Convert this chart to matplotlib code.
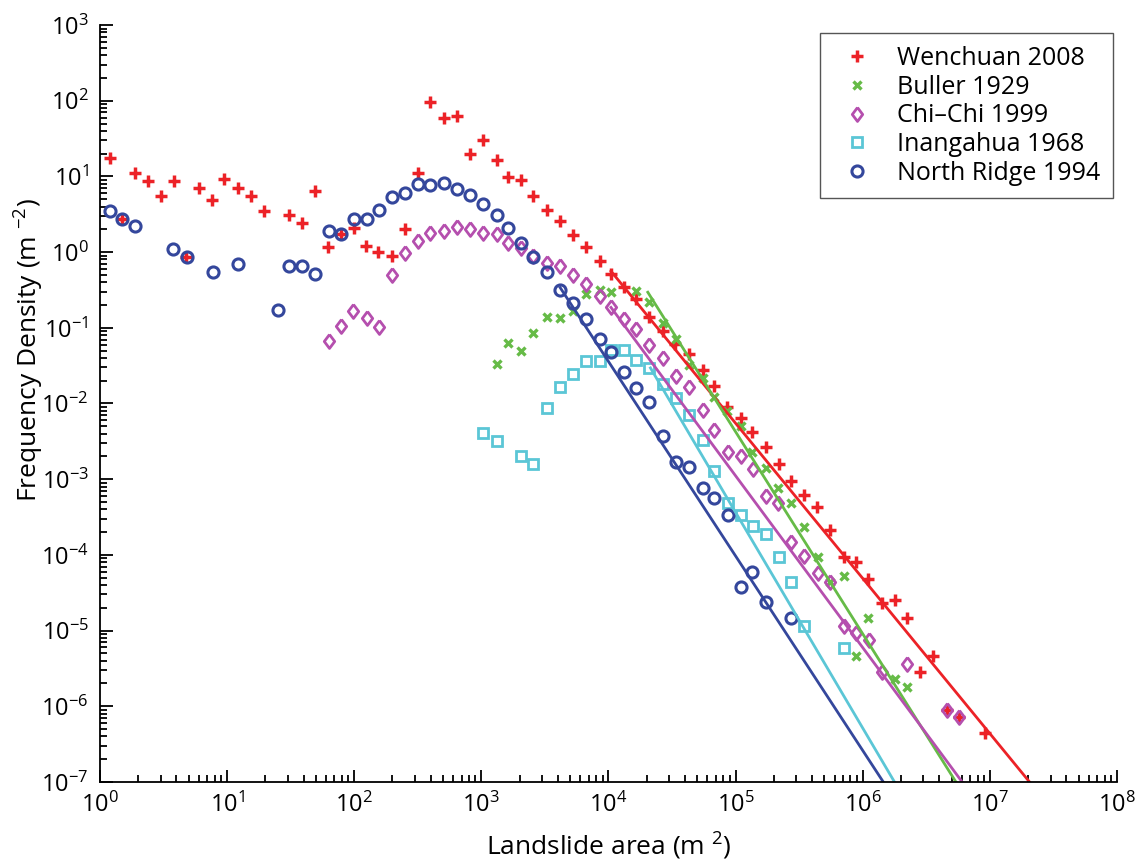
import numpy as np
import matplotlib
matplotlib.use("Agg")
import matplotlib.pyplot as plt
from matplotlib.ticker import LogLocator, FixedLocator, FuncFormatter, NullFormatter

# 字型設定
plt.rcParams['font.family'] = ['Open Sans', 'DejaVu Sans']
plt.rcParams['mathtext.fontset'] = 'custom'
plt.rcParams['mathtext.rm'] = 'Open Sans'
plt.rcParams['mathtext.it'] = 'Open Sans'
plt.rcParams['mathtext.default'] = 'regular'

# ---- data ----
wen_area = [1.2, 1.5, 1.88, 2.39, 3.0, 3.8, 4.8, 6.0, 7.6, 9.5, 12.3, 15.5, 19.5, 31, 39, 49,
            62, 79, 100, 123, 155, 200, 251, 316, 398, 513, 646, 813, 1023, 1318, 1622,
            2042, 2570, 3311, 4169, 5248, 6607, 8511, 10470, 13180, 16600, 20900, 26900,
            33100, 42700, 55000, 67600, 85100, 1.10e5, 1.35e5, 1.74e5, 2.19e5, 2.75e5,
            3.47e5, 4.37e5, 5.5e5, 7.1e5, 8.9e5, 1.10e6, 1.41e6, 1.78e6, 2.24e6, 2.82e6,
            3.55e6, 4.57e6, 5.75e6, 9.1e6]
wen_dens = [17.5, 2.75, 11, 8.7, 5.5, 8.7, 0.87, 7.0, 4.9, 9.3, 7.0, 5.5, 3.5, 3.1, 2.4, 6.4,
            1.17, 1.74, 2.1, 1.22, 1.0, 0.9, 2.0, 11, 96, 59, 63, 20, 30, 16.5, 9.8,
            9.0, 5.5, 3.6, 2.6, 1.68, 1.17, 0.76, 0.51, 0.35, 0.24, 0.14, 0.091,
            0.061, 0.045, 0.028, 0.017, 0.0089, 0.0064, 0.0042, 0.0027, 0.0016, 9.5e-4,
            6.2e-4, 4.3e-4, 2.1e-4, 9.3e-5, 8.1e-5, 4.8e-5, 2.3e-5, 2.5e-5, 1.47e-5, 2.8e-6,
            4.6e-6, 8.9e-7, 7.2e-7, 4.4e-7]

bul_area = [1318, 1622, 2042, 2570, 3311, 4169, 5248, 6607, 8511, 10470, 16600, 20900,
            26900, 33900, 42700, 55000, 67600, 85100, 1.10e5, 1.35e5, 1.74e5, 2.14e5,
            2.75e5, 3.47e5, 4.47e5, 5.5e5, 7.1e5, 8.9e5, 1.10e6, 1.78e6, 2.24e6]
bul_dens = [0.033, 0.063, 0.049, 0.085, 0.138, 0.135, 0.166, 0.28, 0.32, 0.30, 0.31, 0.22,
            0.115, 0.071, 0.032, 0.022, 0.0122, 0.0080, 0.0050, 0.0023, 0.0014, 7.6e-4,
            4.9e-4, 2.3e-4, 9.3e-5, 4.4e-5, 5.3e-5, 4.6e-6, 1.47e-5, 2.3e-6, 1.8e-6]

chi_area = [63, 79, 98, 126, 158, 200, 251, 316, 398, 513, 646, 813, 1023, 1318, 1622, 2042,
            2570, 3311, 4169, 5248, 6607, 8511, 10470, 13180, 16600, 20900, 26900, 33900,
            42700, 55000, 67600, 87100, 1.10e5, 1.38e5, 1.74e5, 2.14e5, 2.75e5, 3.47e5,
            4.47e5, 5.5e5, 7.1e5, 8.9e5, 1.12e6, 1.41e6, 2.24e6, 4.57e6, 5.75e6]
chi_dens = [0.067, 0.105, 0.166, 0.135, 0.103, 0.50, 0.97, 1.4, 1.8, 1.9, 2.15, 2.05, 1.8,
            1.75, 1.3, 1.13, 0.89, 0.72, 0.66, 0.50, 0.38, 0.26, 0.19, 0.13, 0.096, 0.06,
            0.040, 0.023, 0.0165, 0.0082, 0.0045, 0.0023, 0.0020, 0.00136, 6.0e-4, 4.9e-4,
            1.48e-4, 9.7e-5, 5.8e-5, 4.4e-5, 1.15e-5, 9.3e-6, 7.5e-6, 2.8e-6, 3.6e-6,
            8.9e-7, 7.2e-7]

ina_area = [1023, 1318, 2042, 2570, 3311, 4169, 5248, 6607, 8511, 10470, 13180, 16600,
            20900, 26900, 33900, 42700, 55000, 67600, 87100, 1.10e5, 1.38e5, 1.74e5,
            2.19e5, 2.75e5, 3.47e5, 7.1e5]
ina_dens = [0.0041, 0.0032, 0.0020, 0.0016, 0.0087, 0.0165, 0.0245, 0.036, 0.036, 0.051,
            0.051, 0.037, 0.029, 0.018, 0.0118, 0.0071, 0.0033, 0.0013, 4.9e-4, 3.4e-4,
            2.4e-4, 1.9e-4, 9.3e-5, 4.4e-5, 1.15e-5, 5.9e-6]

nr_area = [1.2, 1.5, 1.88, 3.76, 4.84, 7.8, 12.3, 25, 31, 39, 49, 63, 79, 100, 126, 158, 200,
           251, 316, 398, 513, 646, 813, 1023, 1318, 1622, 2042, 2570, 3311, 4169, 5248,
           6607, 8511, 10470, 13180, 16600, 20900, 26900, 33900, 42700, 55000, 67600,
           87100, 1.10e5, 1.35e5, 1.74e5, 2.75e5]
nr_dens = [3.5, 2.75, 2.2, 1.1, 0.87, 0.55, 0.69, 0.17, 0.66, 0.65, 0.51, 1.9, 1.75, 2.75,
           2.7, 3.6, 5.3, 6.0, 7.9, 7.8, 8.2, 6.8, 5.7, 4.3, 3.1, 2.1, 1.3, 0.87, 0.55, 0.32,
           0.21, 0.13, 0.071, 0.048, 0.026, 0.016, 0.0105, 0.0037, 0.0017, 0.00145, 7.6e-4,
           5.6e-4, 3.4e-4, 3.8e-5, 5.9e-5, 2.4e-5, 1.47e-5]

# power-law fits: start area, start density, exponent
fit_start_area = [10470, 20400, 10470, 21400, 4170]
fit_start_dens = [0.56, 0.295, 0.186, 0.0295, 0.34]
fit_exponent = [2.05, 2.67, 2.27, 2.85, 2.57]

labels = ['Wenchuan 2008', 'Buller 1929', 'Chi\u2013Chi 1999', 'Inangahua 1968', 'North Ridge 1994']
colors = ['#ec2227', '#66bb47', '#b54fae', '#5bc6d6', '#34479c']
x_decades = [0, 1, 2, 3, 4, 5, 6, 7, 8]
y_decades = [-7, -6, -5, -4, -3, -2, -1, 0, 1, 2, 3]

# MATLAB 風格的菱形（較瘦長）
diamond = [(0, 1), (0.75, 0), (0, -1), (-0.75, 0), (0, 1)]

fig = plt.figure(figsize=(11.48, 8.64), dpi=100)
ax = fig.add_axes([0.087, 0.095, 0.886, 0.876])

ax.plot(wen_area, wen_dens, '+', color=colors[0], ms=8.5, mew=2.5, label=labels[0])
ax.plot(bul_area, bul_dens, 'x', color=colors[1], ms=6, mew=2.4, label=labels[1])
ax.plot(chi_area, chi_dens, marker=diamond, ls='none', color=colors[2], ms=10, mew=2.0,
        mfc='none', label=labels[2])
ax.plot(ina_area, ina_dens, 's', color=colors[3], ms=7, mew=2.0, mfc='none', label=labels[3])
ax.plot(nr_area, nr_dens, 'o', color=colors[4], ms=8, mew=2.2, mfc='none', label=labels[4])

# 擬合直線
ymin = 1e-7
for a0, d0, b, c in zip(fit_start_area, fit_start_dens, fit_exponent, colors):
    a1 = a0 * (d0 / ymin) ** (1.0 / b) * 1.2
    xs = np.array([a0, a1])
    ax.plot(xs, d0 * (xs / a0) ** (-b), '-', color=c, lw=2.0)

ax.set_xscale('log')
ax.set_yscale('log')
ax.set_xlim(1, 1e8)
ax.set_ylim(1e-7, 1e3)

ax.xaxis.set_major_locator(FixedLocator([10.0 ** k for k in x_decades]))
ax.yaxis.set_major_locator(FixedLocator([10.0 ** k for k in y_decades]))
ax.xaxis.set_minor_locator(LogLocator(base=10, subs=np.arange(2, 10), numticks=200))
ax.yaxis.set_minor_locator(LogLocator(base=10, subs=np.arange(2, 10), numticks=200))
fmt = FuncFormatter(lambda v, p: r'$10^{%d}$' % int(round(np.log10(v))))
ax.xaxis.set_major_formatter(fmt)
ax.yaxis.set_major_formatter(fmt)
ax.xaxis.set_minor_formatter(NullFormatter())
ax.yaxis.set_minor_formatter(NullFormatter())

ax.tick_params(which='both', direction='in', width=1.3, labelsize=17, colors='black')
ax.tick_params(which='major', length=9, pad=8)
ax.tick_params(which='minor', length=5)
ax.spines['top'].set_visible(False)
ax.spines['right'].set_visible(False)
ax.spines['left'].set_linewidth(1.3)
ax.spines['bottom'].set_linewidth(1.3)

ax.set_xlabel(r'Landslide area (m $^{2}$)', fontsize=19, labelpad=9)
ax.set_ylabel(r'Frequency Density (m $^{-2}$)', fontsize=19)
ax.yaxis.set_label_coords(-0.053, 0.57)

leg = ax.legend(loc='upper right', bbox_to_anchor=(0.996, 0.989), fontsize=18, numpoints=1,
                handlelength=2.0, handletextpad=0.6, labelspacing=0.15, borderpad=0.5,
                borderaxespad=0.0, fancybox=False, framealpha=1)
leg.get_frame().set_edgecolor('#555555')
leg.get_frame().set_linewidth(1.0)

fig.savefig('out.png', dpi=100)
